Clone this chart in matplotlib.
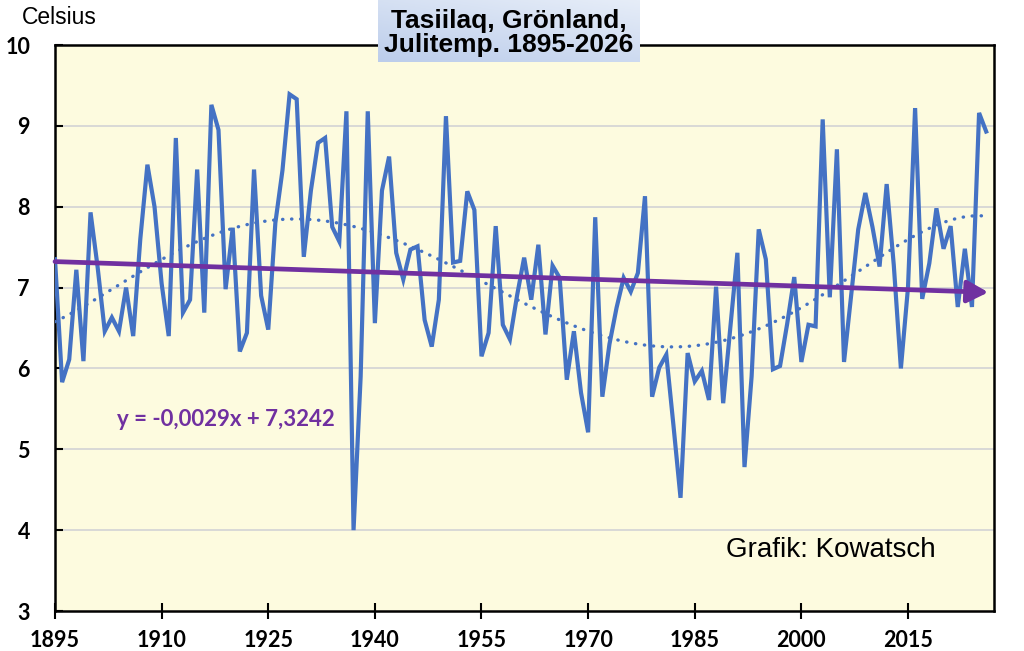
import numpy as np
import matplotlib
matplotlib.use('Agg')
import matplotlib.pyplot as plt
from matplotlib.colors import LinearSegmentedColormap

# July mean temperature, Tasiilaq
years = np.arange(1895, 2027)
temps = [
    7.35, 5.83, 6.11, 7.22, 6.09, 7.93, 7.25, 6.46, 6.63, 6.46,   # 1895-1904
    7.00, 6.40, 7.60, 8.52, 8.00, 7.05, 6.40, 8.85, 6.69, 6.85,   # 1905-1914
    8.46, 6.69, 9.26, 8.95, 6.98, 7.74, 6.21, 6.44, 8.46, 6.90,   # 1915-1924
    6.48, 7.80, 8.45, 9.39, 9.33, 7.38, 8.20, 8.79, 8.85, 7.75,   # 1925-1934
    7.57, 9.18, 4.00, 5.90, 9.18, 6.56, 8.20, 8.62, 7.43, 7.10,   # 1935-1944
    7.47, 7.51, 6.60, 6.27, 6.85, 9.12, 7.31, 7.33, 8.19, 7.96,   # 1945-1954
    6.15, 6.44, 7.76, 6.54, 6.36, 6.90, 7.37, 6.85, 7.53, 6.42,   # 1955-1964
    7.27, 7.12, 5.86, 6.46, 5.70, 5.21, 7.87, 5.65, 6.30, 6.75,   # 1965-1974
    7.12, 6.95, 7.18, 8.13, 5.65, 6.01, 6.17, 5.30, 4.40, 6.19,   # 1975-1984
    5.84, 5.97, 5.61, 7.01, 5.57, 6.50, 7.43, 4.78, 5.90, 7.72,   # 1985-1994
    7.35, 5.99, 6.03, 6.55, 7.13, 6.08, 6.54, 6.52, 9.08, 6.88,   # 1995-2004
    8.71, 6.08, 6.90, 7.72, 8.17, 7.75, 7.26, 8.28, 7.28, 6.00,   # 2005-2014
    7.00, 9.22, 6.86, 7.30, 7.98, 7.48, 7.76, 6.76, 7.48, 6.76,   # 2015-2024
    9.16, 8.93,                                                   # 2025-2026
]

# linear trend as printed on the chart (x = running index 1..n)
slope = -0.0029
intercept = 7.3242
eq_text = 'y = -0,0029x + 7,3242'

x_ticks = [1895, 1910, 1925, 1940, 1955, 1970, 1985, 2000, 2015]
y_ticks = [3, 4, 5, 6, 7, 8, 9, 10]

BLUE = '#4472C4'
PURPLE = '#7030A0'

temps = np.array(temps)
idx = np.arange(1, len(temps) + 1)

fig = plt.figure(figsize=(10.24, 6.51), dpi=100)
ax = fig.add_axes([55 / 1024, 1 - 611 / 651, 939 / 1024, 566 / 651])
ax.set_facecolor('#FDFBDF')

# grid
for v in y_ticks[1:-1]:
    ax.axhline(v, color='#D6D6D6', lw=1.3, zorder=1)

# data
ax.plot(years, temps, color=BLUE, lw=3.0, zorder=3, solid_joinstyle='miter')

# polynomial trend (dotted), 6th order like the Excel trendline
poly = np.polynomial.Polynomial.fit(idx, temps, 6)
xs = np.linspace(1, len(temps), 400)
ax.plot(years[0] + xs - 1, poly(xs), color=BLUE, lw=2.4,
        linestyle=(0, (0.1, 2.6)), dash_capstyle='round', zorder=4)

# linear trend with arrow
y0 = slope * idx[0] + intercept
y1 = slope * idx[-1] + intercept
ax.annotate('', xy=(years[-1] + 0.3, y1), xytext=(years[0], y0),
            arrowprops=dict(arrowstyle='-|>,head_length=0.85,head_width=0.45',
                            mutation_scale=15, lw=3.4, color=PURPLE,
                            shrinkA=0, shrinkB=0), zorder=5)

ax.set_xlim(1895, 2027.1)
ax.set_ylim(3, 10)
ax.set_xticks(x_ticks)
ax.set_yticks(y_ticks)
for s in ax.spines.values():
    s.set_color('black')
    s.set_linewidth(1.8)
ax.tick_params(axis='x', direction='inout', length=12, width=1.5, pad=8)
ax.tick_params(axis='y', direction='in', length=6, width=1.5, pad=18)
for lab in ax.get_xticklabels() + ax.get_yticklabels():
    lab.set_fontfamily('Lato')
    lab.set_fontweight('bold')
    lab.set_fontsize(15.5)

# texts
fig.text(22 / 1024, 1 - 17 / 651, 'Celsius', family='Liberation Sans',
         fontsize=16.5, ha='left', va='center')
fig.text(226 / 1024, 1 - 420 / 651, eq_text, color=PURPLE, fontsize=16,
         fontweight='bold', family='Lato', ha='center', va='center')
fig.text(831 / 1024, 1 - 550 / 651, 'Grafik: Kowatsch', family='Liberation Sans',
         fontsize=20, ha='center', va='center')

# title box with soft blue gradient
tax = fig.add_axes([378 / 1024, 1 - 62 / 651, 262 / 1024, 62 / 651])
grad_cmap = LinearSegmentedColormap.from_list('tb', ['#E6EDF8', '#BCCDEB'])
gx, gy = np.meshgrid(np.linspace(0, 1, 50), np.linspace(0, 1, 50))
tax.imshow(0.6 * gy + 0.4 * (1 - gx), cmap=grad_cmap, aspect='auto',
           extent=(0, 1, 0, 1), origin='upper')
tax.set_axis_off()
tax.text(0.5, 0.47, 'Tasiilaq, Grönland,\nJulitemp. 1895-2026', ha='center',
         va='center', family='Liberation Sans', fontweight='bold', fontsize=19,
         linespacing=1.0, transform=tax.transAxes)

fig.savefig('out.png', dpi=100)
